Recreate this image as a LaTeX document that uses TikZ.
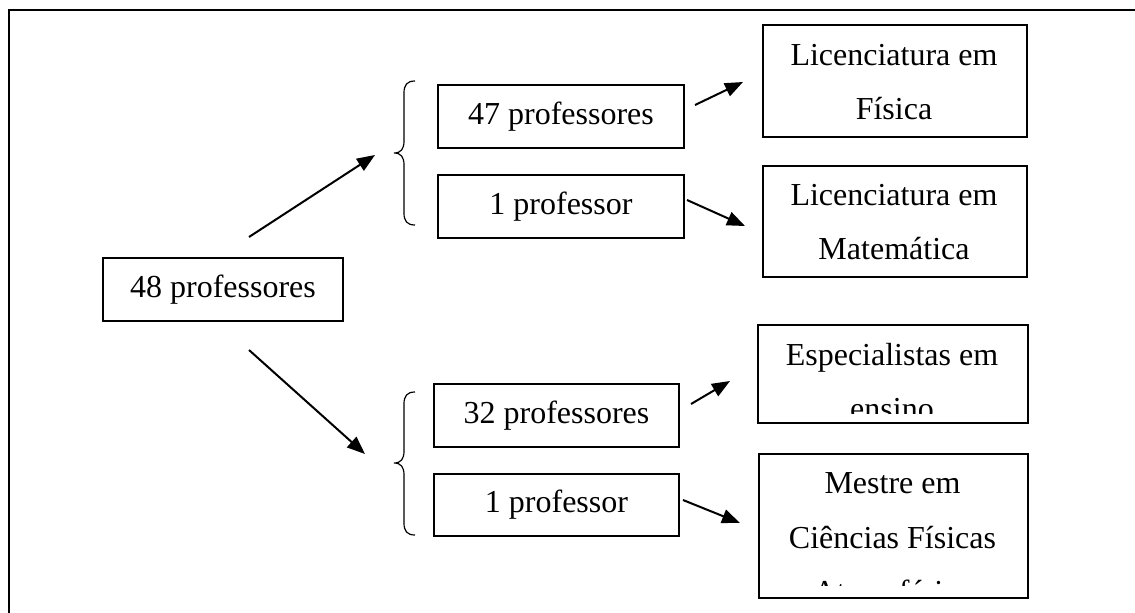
\documentclass[tikz,border=0pt]{standalone}
\usepackage{fontspec}
\setmainfont{Liberation Serif}
\usetikzlibrary{arrows.meta}
\begin{document}
\begin{tikzpicture}[x=1pt,y=-1pt,
  box/.style={draw,line width=2pt,inner sep=0pt,anchor=north west,
    font=\fontsize{32}{54}\selectfont},
  linetxt/.style={anchor=base,inner sep=0pt,font=\fontsize{32}{54}\selectfont},
  arr/.style={line width=2pt,-{Triangle[length=18pt,width=14pt]}},
  brace/.style={line width=1.2pt}]
\useasboundingbox (0,0) rectangle (1135,613);
% frame
\draw[line width=2.6pt] (9,613) -- (9,10) -- (1135,10);
% boxes
\node[box,minimum width=240pt,minimum height=63pt] (b48) at (102,257) {48 professores};
\node[box,minimum width=246pt,minimum height=63pt] (p47) at (437,84) {47 professores};
\node[box,minimum width=246pt,minimum height=63pt] (p1a) at (437,174) {1 professor};
\node[box,minimum width=245pt,minimum height=63pt] (p32) at (433,383) {32 professores};
\node[box,minimum width=245pt,minimum height=62pt] (p1b) at (433,473) {1 professor};
\node[box,minimum width=264pt,minimum height=112pt] (lf) at (762,24) {};
\node[box,minimum width=264pt,minimum height=111pt] (lm) at (762,165) {};
\node[box,minimum width=270pt,minimum height=98pt] (es) at (757,324) {};
\node[box,minimum width=269pt,minimum height=144pt] (me) at (758,453) {};
% texts of multi-line boxes
\node[linetxt] (lf1) at (894,65) {Licenciatura em};
\node[linetxt] (lf2) at (894,119) {Física};
\node[linetxt] (lm1) at (894,205) {Licenciatura em};
\node[linetxt] (lm2) at (894,259) {Matemática};
\begin{scope}
  \clip (757,324) rectangle (1027,413);
  \node[linetxt] (es1) at (892,365) {Especialistas em};
  \node[linetxt] (es2) at (892,419) {ensino};
\end{scope}
\begin{scope}
  \clip (758,453) rectangle (1027,585);
  \node[linetxt] (me1) at (892.5,493) {Mestre em};
  \node[linetxt] (me2) at (892.5,548) {Ciências Físicas};
  \node[linetxt] (me3) at (892.5,602) {Atmosférica};
\end{scope}
% braces
\draw[brace] (415,81) .. controls (407,81) and (404,85) .. (404,93) -- (404,141)
  .. controls (404,149) and (401,153) .. (394,153)
  .. controls (401,153) and (404,157) .. (404,165) -- (404,213)
  .. controls (404,221) and (407,225) .. (415,225);
\draw[brace] (415,392) .. controls (407,392) and (404,396) .. (404,404) -- (404,451)
  .. controls (404,459) and (401,463) .. (394,463)
  .. controls (401,463) and (404,467) .. (404,475) -- (404,523)
  .. controls (404,531) and (407,535) .. (415,535);
% connector end points
\coordinate (s1) at (249,237); \coordinate (t1) at (375,155);
\coordinate (s2) at (249,350); \coordinate (t2) at (365,454);
\coordinate (s3) at (695,105); \coordinate (t3) at (743,82);
\coordinate (s4) at (687,200); \coordinate (t4) at (745,226);
\coordinate (s5) at (691,404); \coordinate (t5) at (730,381);
\coordinate (s6) at (683,500); \coordinate (t6) at (740,523);
\draw[arr] (s1) -- (t1);
\draw[arr] (s2) -- (t2);
\draw[arr] (s3) -- (t3);
\draw[arr] (s4) -- (t4);
\draw[arr] (s5) -- (t5);
\draw[arr] (s6) -- (t6);
\end{tikzpicture}
\end{document}
